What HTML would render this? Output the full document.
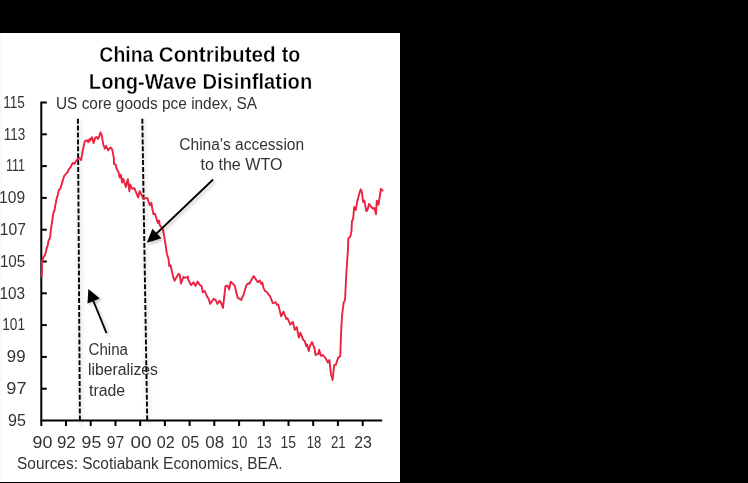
<!DOCTYPE html>
<html><head><meta charset="utf-8"><style>
html,body{margin:0;padding:0;background:#000;width:748px;height:483px;overflow:hidden}
svg{display:block}
.t,.xl,.yl{font-family:"Liberation Sans", sans-serif;font-size:15.6px;fill:#333}
.xl{font-size:16px}
.yl{font-size:16px}
.b{font-family:"Liberation Sans", sans-serif;font-size:21.8px;font-weight:bold;fill:#000;stroke:#fff;stroke-width:0.35px}
</style></head><body>
<svg width="748" height="483" viewBox="0 0 748 483">
<rect x="0" y="0" width="748" height="483" fill="#000"/>
<rect x="0" y="33" width="400" height="449" fill="#fff"/>
<rect x="0" y="34" width="2" height="448" fill="#fafafa"/>
<g>
<defs><filter id="sh" x="-30%" y="-30%" width="160%" height="160%"><feGaussianBlur in="SourceAlpha" stdDeviation="1.6"/><feOffset dx="1.5" dy="2"/><feComponentTransfer><feFuncA type="linear" slope="0.22"/></feComponentTransfer><feMerge><feMergeNode/><feMergeNode in="SourceGraphic"/></feMerge></filter><filter id="bl" x="-50%" y="-10%" width="200%" height="120%"><feGaussianBlur stdDeviation="2.2"/></filter></defs>
<g filter="url(#bl)" opacity="0.07"><line x1="78.9" y1="118.7" x2="80.9" y2="425" stroke="#000" stroke-width="5"/><line x1="143.3" y1="118.7" x2="148.2" y2="425" stroke="#000" stroke-width="5"/></g>
<path d="M46.8,102.5 H41.3 V420.5 H382.2" fill="none" stroke="#000" stroke-width="2"/>
<line x1="41.3" y1="388.7" x2="46.8" y2="388.7" stroke="#000" stroke-width="2"/>
<line x1="41.3" y1="356.9" x2="46.8" y2="356.9" stroke="#000" stroke-width="2"/>
<line x1="41.3" y1="325.1" x2="46.8" y2="325.1" stroke="#000" stroke-width="2"/>
<line x1="41.3" y1="293.3" x2="46.8" y2="293.3" stroke="#000" stroke-width="2"/>
<line x1="41.3" y1="261.5" x2="46.8" y2="261.5" stroke="#000" stroke-width="2"/>
<line x1="41.3" y1="229.7" x2="46.8" y2="229.7" stroke="#000" stroke-width="2"/>
<line x1="41.3" y1="197.9" x2="46.8" y2="197.9" stroke="#000" stroke-width="2"/>
<line x1="41.3" y1="166.1" x2="46.8" y2="166.1" stroke="#000" stroke-width="2"/>
<line x1="41.3" y1="134.3" x2="46.8" y2="134.3" stroke="#000" stroke-width="2"/>
<line x1="41.3" y1="420.5" x2="41.3" y2="426" stroke="#000" stroke-width="2"/>
<line x1="66.0" y1="420.5" x2="66.0" y2="426" stroke="#000" stroke-width="2"/>
<line x1="90.7" y1="420.5" x2="90.7" y2="426" stroke="#000" stroke-width="2"/>
<line x1="115.5" y1="420.5" x2="115.5" y2="426" stroke="#000" stroke-width="2"/>
<line x1="140.2" y1="420.5" x2="140.2" y2="426" stroke="#000" stroke-width="2"/>
<line x1="164.9" y1="420.5" x2="164.9" y2="426" stroke="#000" stroke-width="2"/>
<line x1="189.6" y1="420.5" x2="189.6" y2="426" stroke="#000" stroke-width="2"/>
<line x1="214.3" y1="420.5" x2="214.3" y2="426" stroke="#000" stroke-width="2"/>
<line x1="239.1" y1="420.5" x2="239.1" y2="426" stroke="#000" stroke-width="2"/>
<line x1="263.8" y1="420.5" x2="263.8" y2="426" stroke="#000" stroke-width="2"/>
<line x1="288.5" y1="420.5" x2="288.5" y2="426" stroke="#000" stroke-width="2"/>
<line x1="313.2" y1="420.5" x2="313.2" y2="426" stroke="#000" stroke-width="2"/>
<line x1="337.9" y1="420.5" x2="337.9" y2="426" stroke="#000" stroke-width="2"/>
<line x1="362.7" y1="420.5" x2="362.7" y2="426" stroke="#000" stroke-width="2"/>
<line x1="77.9" y1="118.7" x2="79.9" y2="420" stroke="#000" stroke-width="1.9" stroke-dasharray="5 1.9"/>
<line x1="142.3" y1="118.7" x2="147.2" y2="420" stroke="#000" stroke-width="1.9" stroke-dasharray="5 1.9"/>
<path d="M41.7,276.7 L42.0,270.0 L42.0,261.4 L43.4,257.4 L45.4,254.0 L46.4,249.4 L47.7,245.4 L48.7,240.0 L50.0,238.0 L51.0,228.7 L52.1,222.0 L53.4,212.5 L54.6,210.0 L55.4,205.2 L56.6,198.7 L57.8,194.7 L59.0,189.8 L60.2,189.0 L61.8,183.9 L64.2,175.8 L65.8,174.2 L67.9,171.8 L68.7,169.4 L70.7,167.0 L72.7,162.9 L74.7,163.7 L76.3,160.5 L78.0,158.9 L79.6,158.1 L81.2,160.1 L82.3,152.7 L84.7,141.4 L87.1,140.2 L88.3,142.2 L89.5,139.0 L90.3,140.6 L92.0,137.3 L93.6,143.0 L95.2,137.8 L96.4,136.9 L98.0,139.0 L99.2,136.5 L100.4,132.5 L101.7,134.9 L103.3,144.6 L104.9,148.7 L106.1,145.8 L108.1,150.3 L110.5,147.4 L112.2,149.5 L113.8,157.5 L114.0,163.9 L115.7,164.7 L116.9,169.5 L118.5,172.0 L119.7,177.6 L120.9,174.8 L122.1,182.5 L123.3,178.8 L125.8,186.9 L127.8,179.2 L129.4,191.3 L130.2,184.5 L132.2,188.9 L134.4,188.2 L138.1,197.5 L139.7,191.1 L143.3,198.7 L147.3,197.9 L149.8,205.2 L151.4,202.8 L152.2,208.4 L153.4,214.1 L155.0,213.7 L157.8,223.0 L159.1,220.5 L159.8,225.3 L162.6,228.5 L164.2,235.8 L165.8,246.3 L166.9,254.0 L168.5,258.8 L169.3,266.1 L170.5,265.3 L173.3,277.4 L174.5,280.7 L178.6,273.8 L179.8,275.0 L181.0,283.5 L183.4,277.0 L185.8,277.8 L187.9,276.6 L188.3,279.8 L191.1,285.1 L193.5,282.3 L195.5,285.9 L197.6,281.5 L199.6,284.7 L201.6,286.1 L202.8,292.2 L204.8,291.0 L206.9,296.2 L208.9,299.5 L210.1,303.9 L213.7,298.7 L215.8,300.3 L217.4,303.9 L219.4,300.7 L221.0,302.7 L223.0,307.9 L225.4,286.1 L227.5,285.7 L229.1,289.4 L230.7,281.7 L234.7,285.7 L237.6,297.8 L241.2,299.9 L243.6,294.6 L246.4,285.3 L248.5,283.3 L249.3,283.7 L253.7,276.0 L257.8,282.3 L259.8,280.5 L261.1,283.8 L262.3,282.5 L263.5,287.8 L265.1,291.0 L267.1,292.2 L268.3,294.3 L269.9,295.9 L272.8,303.1 L275.6,302.3 L277.0,304.8 L278.2,304.4 L281.1,316.2 L283.5,311.7 L286.3,319.0 L287.5,318.2 L290.3,324.6 L292.8,321.8 L294.8,329.9 L296.8,327.1 L298.8,337.6 L300.4,332.7 L303.1,339.7 L304.7,340.9 L306.3,346.2 L307.1,344.5 L308.7,351.0 L309.9,346.2 L312.0,342.1 L314.4,347.8 L315.6,355.0 L318.4,353.8 L319.2,349.8 L320.8,355.8 L322.9,355.0 L325.7,358.3 L327.8,362.5 L329.4,360.1 L331.0,374.2 L332.6,380.0 L334.2,364.9 L335.8,364.9 L338.3,357.3 L340.2,356.3 L341.4,326.1 L342.2,314.1 L343.8,302.0 L345.0,300.3 L346.3,274.2 L347.9,250.0 L348.3,238.4 L350.3,236.8 L351.5,231.1 L351.9,221.5 L353.1,219.0 L354.2,207.0 L355.8,209.9 L357.0,202.6 L358.7,195.7 L360.7,189.3 L361.9,192.1 L363.1,201.8 L364.3,200.6 L366.3,211.1 L367.2,210.7 L369.2,203.8 L370.4,205.8 L372.8,208.7 L374.4,207.9 L376.0,214.3 L376.8,200.6 L378.5,204.6 L380.9,188.9 L382.5,190.5" fill="none" stroke="#eb2141" stroke-width="1.9" stroke-linejoin="round" stroke-linecap="round"/>
<g filter="url(#sh)">
<line x1="213.1" y1="179.5" x2="156" y2="234" stroke="#000" stroke-width="1.8"/>
<polygon points="146.8,242.7 152.4,228.7 161.4,238.3" fill="#000"/>
<line x1="106.5" y1="333.2" x2="93" y2="300" stroke="#000" stroke-width="1.8"/>
<polygon points="88.4,288.9 87.5,303.6 99.8,298.4" fill="#000"/>
</g>
</g>
<g style="will-change:transform">
<text id="t1a" x="99.35" y="61.60" class="b" textLength="54.06" lengthAdjust="spacingAndGlyphs">China</text>
<text id="t1b" x="158.75" y="61.60" class="b" textLength="116.85" lengthAdjust="spacingAndGlyphs">Contributed</text>
<text id="t1c" x="281.78" y="61.60" class="b" textLength="18.56" lengthAdjust="spacingAndGlyphs">to</text>
<text id="t2a" x="88.85" y="88.90" class="b" textLength="107.87" lengthAdjust="spacingAndGlyphs">Long-Wave</text>
<text id="t2b" x="202.48" y="88.90" class="b" textLength="109.72" lengthAdjust="spacingAndGlyphs">Disinflation</text>
<text id="subtitle" x="55.99" y="108.50" class="t" textLength="201.01" lengthAdjust="spacingAndGlyphs">US core goods pce index, SA</text>
<text id="acc1" x="179.27" y="149.90" class="t" textLength="124.89" lengthAdjust="spacingAndGlyphs">China&#39;s accession</text>
<text id="acc2" x="200.50" y="169.70" class="t" textLength="82.05" lengthAdjust="spacingAndGlyphs">to the WTO</text>
<text id="china" x="88.51" y="354.60" class="t" textLength="39.43" lengthAdjust="spacingAndGlyphs">China</text>
<text id="liber" x="87.93" y="375.10" class="t" textLength="70.07" lengthAdjust="spacingAndGlyphs">liberalizes</text>
<text id="trade" x="89.00" y="395.60" class="t" textLength="36.00" lengthAdjust="spacingAndGlyphs">trade</text>
<text id="sources" x="16.99" y="468.80" class="t" textLength="265.51" lengthAdjust="spacingAndGlyphs">Sources: Scotiabank Economics, BEA.</text>
<text id="x0" x="32.45" y="447.80" class="xl" textLength="19.91" lengthAdjust="spacingAndGlyphs">90</text>
<text id="x1" x="56.93" y="447.80" class="xl" textLength="18.86" lengthAdjust="spacingAndGlyphs">92</text>
<text id="x2" x="81.57" y="447.80" class="xl" textLength="19.65" lengthAdjust="spacingAndGlyphs">95</text>
<text id="x3" x="106.85" y="447.80" class="xl" textLength="17.44" lengthAdjust="spacingAndGlyphs">97</text>
<text id="x4" x="130.58" y="447.80" class="xl" textLength="20.92" lengthAdjust="spacingAndGlyphs">00</text>
<text id="x5" x="156.74" y="447.80" class="xl" textLength="18.01" lengthAdjust="spacingAndGlyphs">02</text>
<text id="x6" x="181.21" y="447.80" class="xl" textLength="18.14" lengthAdjust="spacingAndGlyphs">05</text>
<text id="x7" x="205.35" y="447.80" class="xl" textLength="18.87" lengthAdjust="spacingAndGlyphs">08</text>
<text id="x8" x="231.24" y="447.80" class="xl" textLength="16.28" lengthAdjust="spacingAndGlyphs">10</text>
<text id="x9" x="256.48" y="447.80" class="xl" textLength="15.23" lengthAdjust="spacingAndGlyphs">13</text>
<text id="x10" x="280.45" y="447.80" class="xl" textLength="15.48" lengthAdjust="spacingAndGlyphs">15</text>
<text id="x11" x="306.64" y="447.80" class="xl" textLength="14.50" lengthAdjust="spacingAndGlyphs">18</text>
<text id="x12" x="330.91" y="447.80" class="xl" textLength="14.73" lengthAdjust="spacingAndGlyphs">21</text>
<text id="x13" x="354.27" y="447.80" class="xl" textLength="17.60" lengthAdjust="spacingAndGlyphs">23</text>
<text id="y95" x="8.00" y="425.80" class="yl" textLength="17.85" lengthAdjust="spacingAndGlyphs">95</text>
<text id="y97" x="6.36" y="394.00" class="yl" textLength="20.18" lengthAdjust="spacingAndGlyphs">97</text>
<text id="y99" x="6.82" y="362.20" class="yl" textLength="18.69" lengthAdjust="spacingAndGlyphs">99</text>
<text id="y101" x="2.19" y="330.40" class="yl" textLength="22.81" lengthAdjust="spacingAndGlyphs">101</text>
<text id="y103" x="-0.43" y="298.60" class="yl" textLength="25.54" lengthAdjust="spacingAndGlyphs">103</text>
<text id="y105" x="-0.10" y="266.80" class="yl" textLength="25.38" lengthAdjust="spacingAndGlyphs">105</text>
<text id="y107" x="-0.14" y="235.00" class="yl" textLength="26.23" lengthAdjust="spacingAndGlyphs">107</text>
<text id="y109" x="-0.94" y="203.20" class="yl" textLength="26.01" lengthAdjust="spacingAndGlyphs">109</text>
<text id="y111" x="5.94" y="171.40" class="yl" textLength="18.97" lengthAdjust="spacingAndGlyphs">111</text>
<text id="y113" x="3.64" y="139.60" class="yl" textLength="21.51" lengthAdjust="spacingAndGlyphs">113</text>
<text id="y115" x="3.22" y="107.80" class="yl" textLength="21.73" lengthAdjust="spacingAndGlyphs">115</text>
</g>
</svg>
</body></html>
